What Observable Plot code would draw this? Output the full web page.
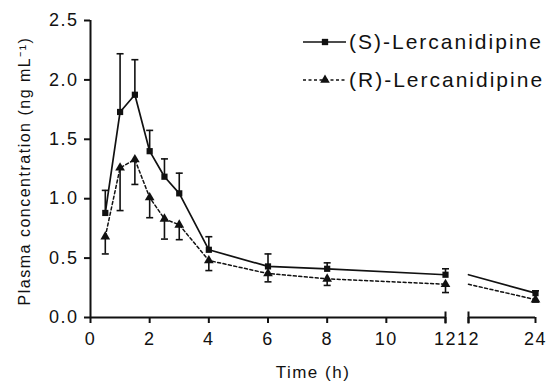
<!DOCTYPE html>
<html>
<head>
<meta charset="utf-8">
<script src="https://cdn.jsdelivr.net/npm/d3@7"></script>
<script src="https://cdn.jsdelivr.net/npm/@observablehq/plot@0.6"></script>
<style>
  html, body { margin: 0; padding: 0; background: #fff; }
  #wrap { position: relative; width: 547px; height: 384px; overflow: hidden; }
  #wrap svg { position: absolute; left: 0; top: 0; }
</style>
</head>
<body>
<div id="wrap"></div>
<script>
// ---- data ----
const times = [0.5, 1, 1.5, 2, 2.5, 3, 4, 6, 8, 12, 24];
const sMean = [0.88, 1.73, 1.875, 1.40, 1.185, 1.045, 0.57, 0.43, 0.41, 0.36, 0.205];
const sSD   = [0.19, 0.49, 0.295, 0.175, 0.15, 0.17, 0.11, 0.105, 0.05, 0.05, 0.02];
const rMean = [0.68, 1.26, 1.33, 1.01, 0.83, 0.78, 0.48, 0.37, 0.325, 0.28, 0.15];
const rSD   = [0.145, 0.36, 0.21, 0.17, 0.17, 0.125, 0.085, 0.07, 0.055, 0.07, 0.02];
const seriesNames = ["(S)-Lercanidipine", "(R)-Lercanidipine"];
const yTicks = [0, 0.5, 1, 1.5, 2, 2.5];
const xTicksA = [0, 2, 4, 6, 8, 10, 12];
const xTicksB = [12, 24];
const yLabel = "Plasma concentration (ng mL\u207B\u00B9)";
const xLabel = "Time (h)";

// ---- derived tables ----
const S = times.map((t, i) => ({t, m: sMean[i], end: sMean[i] + sSD[i]}));
const R = times.map((t, i) => ({t, m: rMean[i], end: rMean[i] - rSD[i]}));

const FONT = "'Liberation Sans', Arial, Helvetica, sans-serif";
const W = 547, H = 384;
const capSym = {draw(ctx) { ctx.moveTo(-3.5, 0); ctx.lineTo(3.5, 0); }};
const vTick = {draw(ctx) { ctx.moveTo(0, -6); ctx.lineTo(0, 6); }};
const baseStyle = {fontFamily: FONT, fontSize: "18px", letterSpacing: "1.5px", color: "#111", background: "transparent", overflow: "visible"};

function seriesMarks(filterLine, filterDot) {
  return [
    Plot.ruleX(S.filter(filterDot), {x: "t", y1: "m", y2: "end", stroke: "#111", strokeWidth: 1.6}),
    Plot.dot(S.filter(filterDot), {x: "t", y: "end", symbol: capSym, r: 3, stroke: "#111", strokeWidth: 1.6, fill: "none"}),
    Plot.ruleX(R.filter(filterDot), {x: "t", y1: "m", y2: "end", stroke: "#111", strokeWidth: 1.6}),
    Plot.dot(R.filter(filterDot), {x: "t", y: "end", symbol: capSym, r: 3, stroke: "#111", strokeWidth: 1.6, fill: "none"}),
    Plot.line(R.filter(filterLine), {x: "t", y: "m", stroke: "#111", strokeWidth: 1.5, strokeDasharray: "3,2.5"}),
    Plot.line(S.filter(filterLine), {x: "t", y: "m", stroke: "#111", strokeWidth: 1.7}),
    Plot.dot(R.filter(filterDot), {x: "t", y: "m", symbol: "triangle", r: 3.6, fill: "#111", stroke: "none"}),
    Plot.dot(S.filter(filterDot), {x: "t", y: "m", symbol: "square", r: 3.5, fill: "#111", stroke: "none"})
  ];
}

// Left panel: 0–12 h
const plotA = Plot.plot({
  width: W, height: H,
  marginLeft: 90, marginRight: W - 445, marginTop: 20, marginBottom: H - 317,
  style: baseStyle,
  x: {domain: [0, 12]},
  y: {domain: [0, 2.5]},
  marks: [
    Plot.axisY({ticks: yTicks, tickFormat: d3.format(".1f"), tickSize: 6, tickPadding: 6, fontSize: 18, label: null, strokeWidth: 2}),
    Plot.axisX({ticks: xTicksA, tickFormat: d3.format("d"), tickSize: 6, tickPadding: 9, fontSize: 18, label: null, strokeWidth: 2}),
    Plot.ruleY([0], {stroke: "#111", strokeWidth: 2}),
    Plot.ruleX([0], {stroke: "#111", strokeWidth: 2}),
    Plot.dot([12], {x: d => d, y: () => 0, symbol: vTick, r: 3, stroke: "#111", strokeWidth: 2}),
    ...seriesMarks(d => d.t <= 12, d => d.t <= 12),
    Plot.text([yLabel], {frameAnchor: "left", textAnchor: "middle", lineAnchor: "middle", rotate: -90, dx: -66, dy: 2, fontSize: 16, fill: "#111"}),
    Plot.text([xLabel], {frameAnchor: "bottom", textAnchor: "middle", lineAnchor: "middle", dx: 45, dy: 55, fontSize: 17, fill: "#111"})
  ]
});

// Right panel: 12–24 h
const plotB = Plot.plot({
  width: W, height: H,
  marginLeft: 468, marginRight: W - 535, marginTop: 20, marginBottom: H - 317,
  style: baseStyle,
  x: {domain: [12, 24]},
  y: {domain: [0, 2.5], axis: null},
  marks: [
    Plot.axisX({ticks: xTicksB, tickFormat: d3.format("d"), tickSize: 6, tickPadding: 9, fontSize: 18, label: null, strokeWidth: 2}),
    Plot.ruleY([0], {stroke: "#111", strokeWidth: 2}),
    Plot.dot([12], {x: d => d, y: () => 0, symbol: vTick, r: 3, stroke: "#111", strokeWidth: 2}),
    ...seriesMarks(d => d.t >= 12, d => d.t > 12)
  ]
});

const wrap = document.getElementById("wrap");
wrap.appendChild(plotA);
wrap.appendChild(plotB);

// Legend (top right)
const leg = d3.select(wrap).append("svg")
  .attr("width", W).attr("height", H)
  .style("font-family", FONT).style("letter-spacing", "2px");
const legendRows = [
  {name: seriesNames[0], y: 42, dash: null, sym: d3.symbolSquare, size: 40},
  {name: seriesNames[1], y: 80, dash: "3,2.5", sym: d3.symbolTriangle, size: 40}
];
legendRows.forEach(r => {
  const g = leg.append("g");
  g.append("line").attr("x1", 303).attr("x2", 346).attr("y1", r.y).attr("y2", r.y)
    .attr("stroke", "#111").attr("stroke-width", 1.7).attr("stroke-dasharray", r.dash);
  g.append("path").attr("d", d3.symbol(r.sym, r.size)()).attr("transform", `translate(325,${r.y})`).attr("fill", "#111");
  g.append("text").attr("x", 349).attr("y", r.y).attr("dy", "0.35em")
    .attr("font-size", 21).attr("fill", "#111").text(r.name);
});
</script>
</body>
</html>
